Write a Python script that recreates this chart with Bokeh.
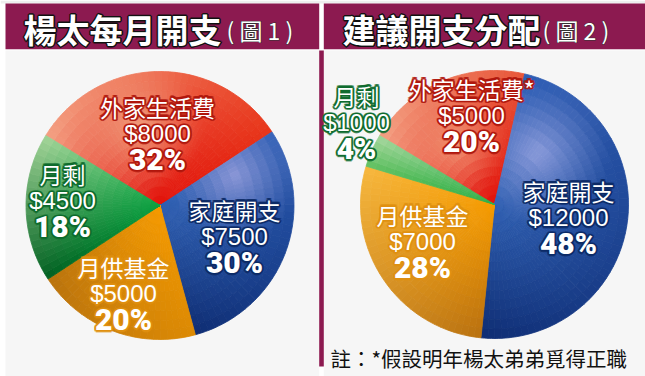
import numpy as np
from bokeh.plotting import figure
from bokeh.models import Range1d, ColumnDataSource
from bokeh.core.properties import value
from bokeh.embed import file_html
from bokeh.resources import INLINE

# ---------------- data ----------------
left_title = "楊太每月開支"
left_sub = "( 圖 1 )"
right_title = "建議開支分配"
right_sub = "( 圖 2 )"
left_names = ["外家生活費", "家庭開支", "月供基金", "月剩"]
left_amounts = [8000, 7500, 5000, 4500]
right_names = ["外家生活費*", "家庭開支", "月供基金", "月剩"]
right_amounts = [5000, 12000, 7000, 1000]
footnote = "註：*假設明年楊太弟弟覓得正職"

# ---------------- layout (reference pixel coords, y down) ----------------
W, H = 645, 376
def Y(v):
    return H - np.asarray(v, dtype=float)

left_center = (159.5, 205)
right_center = (494, 204)
R = 134
left_start = 148.5
right_start = 149.0

left_lab_x = [157, 234, 123, 62]
left_lab_y = [133, 236, 293, 200]
right_lab_x = [471, 568, 422, 356]
right_lab_y = [115, 217, 241, 122]

# slice shading styles: centre colour, outer colour at slice start, outer colour at slice end, highlight
left_styles = [
    dict(c="#e2140c", s="#f4a486", e="#e8361a", h=(105, 0.62, "#f09a7a", 0.5)),
    dict(c="#3060b2", s="#2a5cb4", e="#0e2c72", h=(22, 0.6, "#8a96d6", 0.5)),
    dict(c="#f59a00", s="#dc8a04", e="#b8720e", h=None),
    dict(c="#0aa040", s="#005e20", e="#a6d69a", h=None),
]
right_styles = [
    dict(c="#e2140c", s="#f4a486", e="#e8583a", h=(122, 0.55, "#f09070", 0.4)),
    dict(c="#3060b2", s="#2e5eb6", e="#0e2c72", h=(50, 0.5, "#8a9ada", 0.55)),
    dict(c="#f59a00", s="#b87010", e="#f7b840", h=None),
    dict(c="#30b048", s="#60c060", e="#a8d8a0", h=None),
]
left_glow = ["#b0160c", "#0c2a66", "#e09010", "#0c6a2c"]
right_glow = ["#b0160c", "#0c2a66", "#e09010", "#0c6a2c"]

HEADER = "#8c1a50"
PANEL = "#f6f6f6"
GLOW_OFFSETS = [(-1.5, 0), (1.5, 0), (0, -1.5), (0, 1.5), (-1.1, -1.1), (1.1, 1.1), (-1.1, 1.1), (1.1, -1.1)]


def hex2rgb(h):
    h = h.lstrip("#")
    return np.array([int(h[i:i + 2], 16) for i in (0, 2, 4)], dtype=float)


def rgb2hex(c):
    c = np.clip(np.round(c), 0, 255).astype(int)
    return "#%02x%02x%02x" % tuple(c)


def cells(center, amounts, start_deg, styles):
    cx, cy = center
    total = float(sum(amounts))
    d = dict(x=[], y=[], ir=[], orr=[], sa=[], ea=[], col=[])
    a0 = start_deg
    nR = 14
    for amt, st in zip(amounts, styles):
        span = 360.0 * amt / total
        nA = max(2, int(np.ceil(span / 3.0)))
        c0, cs, ce = hex2rgb(st["c"]), hex2rgb(st["s"]), hex2rgb(st["e"])
        for i in range(nA):
            t0, t1 = i / nA, (i + 1) / nA
            tm = (t0 + t1) / 2
            a_s = a0 - span * t0
            a_e = a0 - span * t1
            am = np.radians(a0 - span * tm)
            outer = cs + (ce - cs) * tm
            for j in range(nR):
                rm = (j + 0.5) / nR
                col = c0 + (outer - c0) * rm
                if st["h"] is not None:
                    ha, hr, hc, hs = st["h"]
                    hx, hy = hr * np.cos(np.radians(ha)), hr * np.sin(np.radians(ha))
                    px, py = rm * np.cos(am), rm * np.sin(am)
                    w = max(0.0, 1 - np.hypot(px - hx, py - hy) / hs) ** 1.2
                    col = col + (hex2rgb(hc) - col) * w
                d["x"].append(cx)
                d["y"].append(float(Y(cy)))
                d["ir"].append(R * j / nR)
                d["orr"].append(R * (j + 1) / nR)
                d["sa"].append(np.radians(a_e))
                d["ea"].append(np.radians(a_s))
                d["col"].append(rgb2hex(col))
        a0 -= span
    return ColumnDataSource(d)


p = figure(width=W, height=H, x_range=Range1d(0, W), y_range=Range1d(0, H),
           output_backend="svg", toolbar_location=None,
           x_axis_location=None, y_axis_location=None, min_border=0,
           background_fill_color="white", border_fill_color="white", outline_line_color=None)
p.xgrid.visible = False
p.ygrid.visible = False

# panels and headers
p.quad(left=[0], right=[W], top=list(Y([0])), bottom=list(Y([3])), fill_color="#eeeeee", line_color=None)
p.quad(left=[5, 323.3], right=[318.7, 645], top=list(Y([50, 50])), bottom=list(Y([376, 376])),
       fill_color=PANEL, line_color=None)
p.quad(left=[5, 323.3], right=[318.7, 645], top=list(Y([3, 3])), bottom=list(Y([48.7, 48.7])),
       fill_color=HEADER, line_color=None)
p.quad(left=[318.7], right=[323.3], top=list(Y([50])), bottom=list(Y([366])),
       fill_color=HEADER, line_color=None)

CJK = value("Noto Sans CJK TC")


def glow_text(glow, offsets, **kw):
    # halo drawn as shifted copies in the glow colour, then the white text on top
    for dx, dy in offsets:
        p.text(text_color=glow, text_outline_color=glow, x_offset=dx, y_offset=dy, **kw)
    p.text(text_color="white", **kw)


HDR_OFFSETS = [(-1, 0), (1, 0), (0, -1), (0, 1)]
glow_text("#111111", HDR_OFFSETS, x=[23, 342], y=list(Y([28, 28])), text=[left_title, right_title],
          text_font=CJK, text_font_style="bold", text_font_size="33px",
          text_align="left", text_baseline="middle")
glow_text("#333333", [(0, 0)], x=[226, 542], y=list(Y([29, 29])), text=[left_sub, right_sub],
          text_font=CJK, text_font_size="23px", text_align="left", text_baseline="middle")

# pies
for center, amounts, start, styles in [(left_center, left_amounts, left_start, left_styles),
                                       (right_center, right_amounts, right_start, right_styles)]:
    src = cells(center, amounts, start, styles)
    p.annular_wedge(x="x", y="y", inner_radius="ir", outer_radius="orr",
                    start_angle="sa", end_angle="ea", direction="anticlock",
                    fill_color="col", line_color="col", line_width=0.8, source=src)

# labels
for names, amounts, lx, ly, glow in [(left_names, left_amounts, left_lab_x, left_lab_y, left_glow),
                                     (right_names, right_amounts, right_lab_x, right_lab_y, right_glow)]:
    total = sum(amounts)
    amt_txt = ["$%d" % a for a in amounts]
    pct_txt = ["%d%%" % round(100 * a / total) for a in amounts]
    ly = np.asarray(ly, dtype=float)
    src = ColumnDataSource(dict(x=lx, yn=Y(ly - 27), ya=Y(ly), yp=Y(ly + 26),
                                n=names, a=amt_txt, pc=pct_txt, g=glow))
    for ycol, tcol, font, size, style in [("yn", "n", CJK, "23px", "normal"),
                                          ("ya", "a", value("Liberation Sans"), "24px", "normal"),
                                          ("yp", "pc", value("Roboto Black, Roboto"), "30px", "bold")]:
        for dx, dy in GLOW_OFFSETS:
            p.text(x="x", y=ycol, text=tcol, source=src, text_font=font, text_font_size=size,
                   text_font_style=style, text_color="g", text_outline_color="g",
                   x_offset=dx, y_offset=dy, text_alpha=0.6,
                   text_align="center", text_baseline="middle")
        p.text(x="x", y=ycol, text=tcol, source=src, text_font=font, text_font_size=size,
               text_font_style=style, text_color="white",
               text_align="center", text_baseline="middle")

p.text(x=[330], y=list(Y([357])), text=[footnote], text_font=CJK, text_font_size="20.5px",
       text_color="#111111", text_align="left", text_baseline="middle")

open("out.html", "w").write(file_html(p, INLINE))
